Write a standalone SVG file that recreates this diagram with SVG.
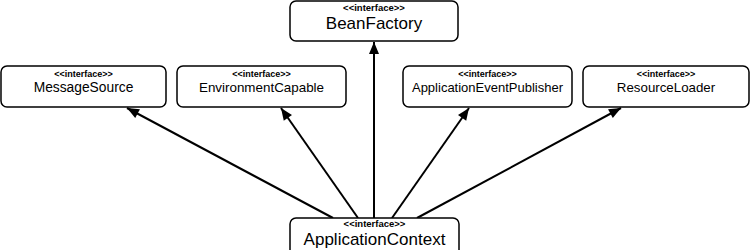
<svg xmlns="http://www.w3.org/2000/svg" width="750" height="250" viewBox="0 0 750 250">
<style>
.box{fill:#fff;stroke:#000;stroke-width:1.5}
.st{font-family:"Liberation Sans",Arial,sans-serif;font-weight:bold;text-anchor:middle;fill:#000}
.nm{font-family:"Liberation Sans",Arial,sans-serif;text-anchor:middle;fill:#000}
.edge{stroke:#000;stroke-width:2;fill:none;marker-end:url(#arr)}
</style>
<defs>
<marker id="arr" markerUnits="userSpaceOnUse" markerWidth="14" markerHeight="14" viewBox="0 0 14 14" refX="13" refY="7" orient="auto">
<path d="M1,2 L13,7 L1,12 Z" fill="#000"/>
</marker>
</defs>
<rect width="750" height="250" fill="#fff"/>
<g id="edges">
<line class="edge" x1="333" y1="218" x2="127" y2="108"/>
<line class="edge" x1="358" y1="218" x2="281" y2="108"/>
<line class="edge" x1="374" y1="218" x2="374" y2="42"/>
<line class="edge" x1="392" y1="218" x2="469" y2="108"/>
<line class="edge" x1="417" y1="218" x2="621" y2="108"/>
</g>
<g id="BeanFactory">
<rect class="box" x="290" y="1" width="168" height="40" rx="6"/>
<text class="st" x="374" y="11" font-size="9.5">&lt;&lt;interface&gt;&gt;</text>
<text class="nm" x="374" y="29" font-size="17">BeanFactory</text>
</g>
<g id="MessageSource">
<rect class="box" x="1" y="66" width="165" height="41" rx="6"/>
<text class="st" x="83.5" y="77" font-size="9">&lt;&lt;interface&gt;&gt;</text>
<text class="nm" x="83.5" y="92" font-size="13.8">MessageSource</text>
</g>
<g id="EnvironmentCapable">
<rect class="box" x="177" y="66" width="169" height="41" rx="6"/>
<text class="st" x="261.5" y="77" font-size="9">&lt;&lt;interface&gt;&gt;</text>
<text class="nm" x="261.5" y="92" font-size="13.4">EnvironmentCapable</text>
</g>
<g id="ApplicationEventPublisher">
<rect class="box" x="403" y="66" width="169" height="41" rx="6"/>
<text class="st" x="487.5" y="77" font-size="9">&lt;&lt;interface&gt;&gt;</text>
<text class="nm" x="487.5" y="92" font-size="13">ApplicationEventPublisher</text>
</g>
<g id="ResourceLoader">
<rect class="box" x="583" y="66" width="166" height="41" rx="6"/>
<text class="st" x="666" y="77" font-size="9">&lt;&lt;interface&gt;&gt;</text>
<text class="nm" x="666" y="92" font-size="13.3">ResourceLoader</text>
</g>
<g id="ApplicationContext">
<rect class="box" x="290" y="218" width="169" height="45" rx="6"/>
<text class="st" x="374.5" y="227" font-size="9.5">&lt;&lt;interface&gt;&gt;</text>
<text class="nm" x="374.5" y="245" font-size="17">ApplicationContext</text>
</g>
</svg>
